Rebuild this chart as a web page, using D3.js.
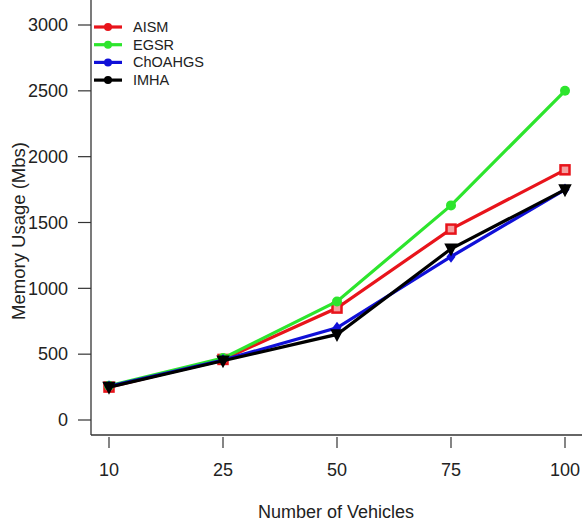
<!DOCTYPE html>
<html><head><meta charset="utf-8">
<script src="https://cdn.jsdelivr.net/npm/d3@7"></script>
<style>body{margin:0;background:#fff}svg{display:block}text{font-family:"Liberation Sans",Arial,sans-serif;fill:#222}</style>
</head><body><svg id="c" width="582" height="524"></svg>
<script>
const categories = ["10","25","50","75","100"];
const yTicks = [0,500,1000,1500,2000,2500,3000];
const seriesNames = ["AISM","EGSR","ChOAHGS","IMHA"];
const seriesColors = ["#e8141b","#2de52d","#1010d8","#000000"];
const aism = [250,460,850,1450,1900];
const egsr = [260,470,900,1630,2500];
const choahgs = [255,455,700,1240,1750];
const imha = [250,450,650,1300,1750];
const seriesValues = [aism,egsr,choahgs,imha];
const markers = ["square","circle","diamond","triangle"];

const svg = d3.select("#c");
const x = d3.scalePoint().domain(categories).range([109,565]);
const y = d3.scaleLinear().domain([0,3000]).range([420,25]);

// axes
svg.append("line").attr("x1",91).attr("x2",91).attr("y1",0).attr("y2",435).attr("stroke","#333").attr("stroke-width",1.3);
svg.append("line").attr("x1",91).attr("x2",582).attr("y1",435).attr("y2",435).attr("stroke","#333").attr("stroke-width",1.3);

const ya = svg.append("g");
yTicks.forEach(t=>{
  ya.append("line").attr("x1",78).attr("x2",91).attr("y1",y(t)).attr("y2",y(t)).attr("stroke","#333").attr("stroke-width",1.2);
  ya.append("text").attr("x",68).attr("y",y(t)).attr("dy","0.35em").attr("text-anchor","end").attr("font-size",18).text(t);
});
const xa = svg.append("g");
categories.forEach(c=>{
  xa.append("line").attr("x1",x(c)).attr("x2",x(c)).attr("y1",437).attr("y2",448).attr("stroke","#333").attr("stroke-width",1.2);
  xa.append("text").attr("x",x(c)).attr("y",476).attr("text-anchor","middle").attr("font-size",18).text(c);
});
svg.append("text").attr("x",336).attr("y",518).attr("text-anchor","middle").attr("font-size",18).text("Number of Vehicles");
svg.append("text").attr("transform","translate(25,231) rotate(-90)").attr("text-anchor","middle").attr("font-size",18.5).text("Memory Usage (Mbs)");

function drawMarker(g, type, cx, cy, color, s){
  if(type==="square"){
    g.append("rect").attr("x",cx-s).attr("y",cy-s).attr("width",2*s).attr("height",2*s).attr("fill","#f4a0a0").attr("stroke",color).attr("stroke-width",2.5);
  } else if(type==="circle"){
    g.append("circle").attr("cx",cx).attr("cy",cy).attr("r",s+0.5).attr("fill",color);
  } else if(type==="diamond"){
    g.append("path").attr("d",`M${cx},${cy-s-1.5}L${cx+s},${cy}L${cx},${cy+s+1.5}L${cx-s},${cy}Z`).attr("fill",color);
  } else {
    g.append("path").attr("d",`M${cx-s-1},${cy-s}L${cx+s+1},${cy-s}L${cx},${cy+s+1.5}Z`).attr("fill",color).attr("stroke",color).attr("stroke-width",1.5);
  }
}

const line = d3.line().x((d,i)=>x(categories[i])).y(d=>y(d));
seriesValues.forEach((vals,k)=>{
  const g = svg.append("g");
  g.append("path").attr("d",line(vals)).attr("fill","none").attr("stroke",seriesColors[k]).attr("stroke-width",3.2);
  vals.forEach((v,i)=>drawMarker(g, markers[k], x(categories[i]), y(v), seriesColors[k], 4.5));
});

// legend
const lg = svg.append("g");
seriesNames.forEach((n,k)=>{
  const ly = 27 + k*17.7;
  lg.append("line").attr("x1",94).attr("x2",122).attr("y1",ly).attr("y2",ly).attr("stroke",seriesColors[k]).attr("stroke-width",3.2);
  lg.append("circle").attr("cx",108).attr("cy",ly).attr("r",4).attr("fill",seriesColors[k]);
  lg.append("text").attr("x",133).attr("y",ly).attr("dy","0.35em").attr("font-size",14.5).text(n);
});
</script></body></html>
